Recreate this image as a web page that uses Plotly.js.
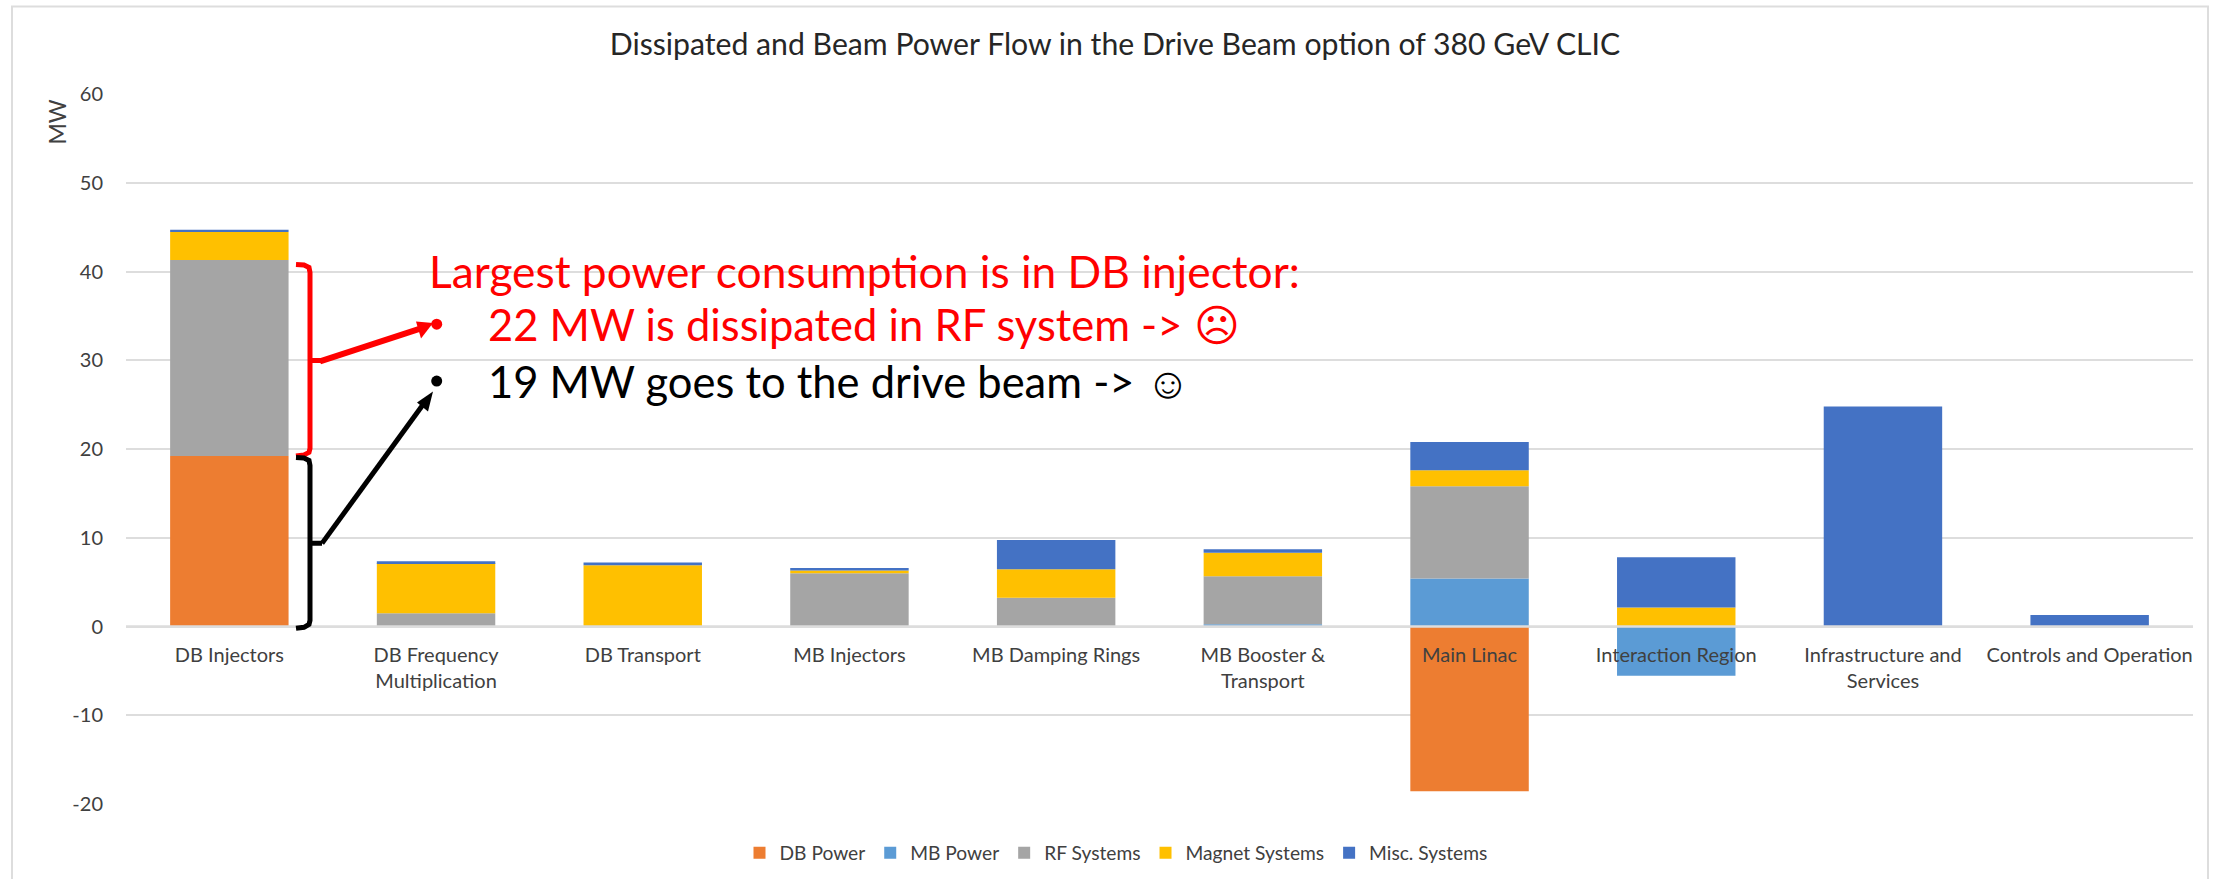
<!DOCTYPE html>
<html><head><meta charset="utf-8">
<script src="https://cdn.plot.ly/plotly-3.0.1.min.js"></script>
<style>html,body{margin:0;padding:0;background:#fff}</style></head>
<body><div id="chart" style="width:2221px;height:879px"></div>
<script>
const categories = ["DB Injectors","DB Frequency<br>Multiplication","DB Transport","MB Injectors","MB Damping Rings","MB Booster &<br>Transport","Main Linac","Interaction Region","Infrastructure and<br>Services","Controls and Operation"];
const dbPower     = [19.2, 0, 0, 0, 0, 0, -18.55, 0, 0, 0];
const mbPower     = [0, 0, 0, 0, 0, 0.25, 5.4, -5.55, 0, 0];
const rfSystems   = [22.1, 1.5, 0, 6.0, 3.25, 5.4, 10.4, 0, 0, 0];
const magnetSystems = [3.15, 5.65, 6.9, 0.3, 3.2, 2.65, 1.8, 2.15, 0, 0];
const miscSystems = [0.25, 0.2, 0.3, 0.3, 3.3, 0.4, 3.2, 5.65, 24.8, 1.3];
const yTicks = [-20,-10,0,10,20,30,40,50,60];

const W=2221,H=879,L=126,R=2193,T=93.5,B=803.7;
const px=x=>(x-L)/(R-L), py=y=>(B-y)/(B-T);
const P=(pts,close)=>pts.map((p,i)=>(i?'L':'M')+px(p[0])+','+py(p[1])).join(' ')+(close?' Z':'');
const FONT='Lato, "Open Sans", sans-serif', INK='#404040';

const series=[["DB Power",dbPower,"#ED7D31"],["MB Power",mbPower,"#5B9BD5"],["RF Systems",rfSystems,"#A5A5A5"],["Magnet Systems",magnetSystems,"#FFC000"],["Misc. Systems",miscSystems,"#4472C4"]];
const traces=series.map(s=>({type:'bar',name:s[0],x:categories,y:s[1],marker:{color:s[2],line:{width:0}}}));

function pathShape(d,color,w,fill){return {type:'path',xref:'paper',yref:'paper',path:d,line:{color:color,width:w},fillcolor:fill||'rgba(0,0,0,0)',layer:'above'};}
function dot(x,y,r,c){return {type:'circle',xref:'paper',yref:'paper',x0:px(x-r),x1:px(x+r),y0:py(y+r),y1:py(y-r),fillcolor:c,line:{color:c,width:0},layer:'above'};}
const shapes=[
 {type:'line',xref:'paper',yref:'y',x0:0,x1:1,y0:0,y1:0,line:{color:'#DDDDDD',width:2.5},layer:'above'},
 pathShape(P([[12,879],[12,6],[2208,6],[2208,879]]),'#DDDDDD',2),
 // red bracket
 pathShape(P([[296,264],[304,264.5],[309,267],[310,272],[310,360],[324,360],[310,360],[310,448],[309,452],[304,454.5],[296,455.5]]),'#FF0000',5),
 // black bracket
 pathShape(P([[296,457],[304,457.5],[309,460],[310,465],[310,543],[322,543],[310,543],[310,620],[309,624],[304,627],[296,628]]),'#000000',5),
 // red arrow
 pathShape(P([[320,361],[424,327]]),'#FF0000',6),
 pathShape(P([[433,322.5],[416,321],[421,338]],true),'#FF0000',0,'#FF0000'),
 dot(436.7,323.7,5.5,'#FF0000'),
 // black arrow
 pathShape(P([[322,543],[426,400]]),'#000000',5),
 pathShape(P([[433,391],[417,402],[428,411]],true),'#000000',0,'#000000'),
 dot(436.7,380.7,5.5,'#000000')
];
function txt(t,x,y,size,color,anchor,extra){return Object.assign({text:t,xref:'paper',yref:'paper',x:px(x),y:py(y),xanchor:anchor||'left',yanchor:'middle',showarrow:false,font:{family:FONT,size:size,color:color}},extra||{});}
const annotations=[
 txt('Largest power consumption is in DB injector:',427,270,44.3,'#FF0000'),
 txt('22 MW is dissipated in RF system -> \u2639',486,324,43.5,'#FF0000'),
 txt('19 MW goes to the drive beam -> \u263A',486,381,43.5,'#000000'),
 txt('MW',57,122,23,INK,'center',{textangle:-90})
];
const layout={
 width:W,height:H,paper_bgcolor:'#fff',plot_bgcolor:'#fff',
 margin:{l:L,r:W-R,t:T,b:H-B,pad:0,autoexpand:false},
 barmode:'relative',bargap:0.427,
 title:{text:'Dissipated and Beam Power Flow in the Drive Beam option of 380 GeV CLIC',font:{family:FONT,size:30.2,color:'#262626'},x:px(1115),xref:'paper',xanchor:'center',y:1-44/H,yanchor:'middle'},
 xaxis:{type:'category',anchor:'free',position:0.25,showgrid:false,zeroline:false,showline:false,ticks:'outside',ticklen:10,tickcolor:'rgba(0,0,0,0)',tickfont:{family:FONT,size:20,color:INK},tickangle:0,automargin:false},
 yaxis:{range:[-20,60],tickmode:'array',tickvals:yTicks,ticktext:yTicks.map(String),showgrid:true,gridcolor:'#DDDDDD',gridwidth:2,zeroline:false,showline:false,ticks:'outside',ticklen:18,tickcolor:'rgba(0,0,0,0)',tickfont:{family:FONT,size:20,color:INK},automargin:false},
 legend:{orientation:'h',x:px(1116),xanchor:'center',y:py(852.5),yanchor:'middle',font:{family:FONT,size:19.2,color:INK},traceorder:'normal',bgcolor:'rgba(0,0,0,0)'},
 shapes:shapes,annotations:annotations,showlegend:true
};
Plotly.newPlot('chart',traces,layout,{displayModeBar:false,responsive:false});
</script></body></html>
